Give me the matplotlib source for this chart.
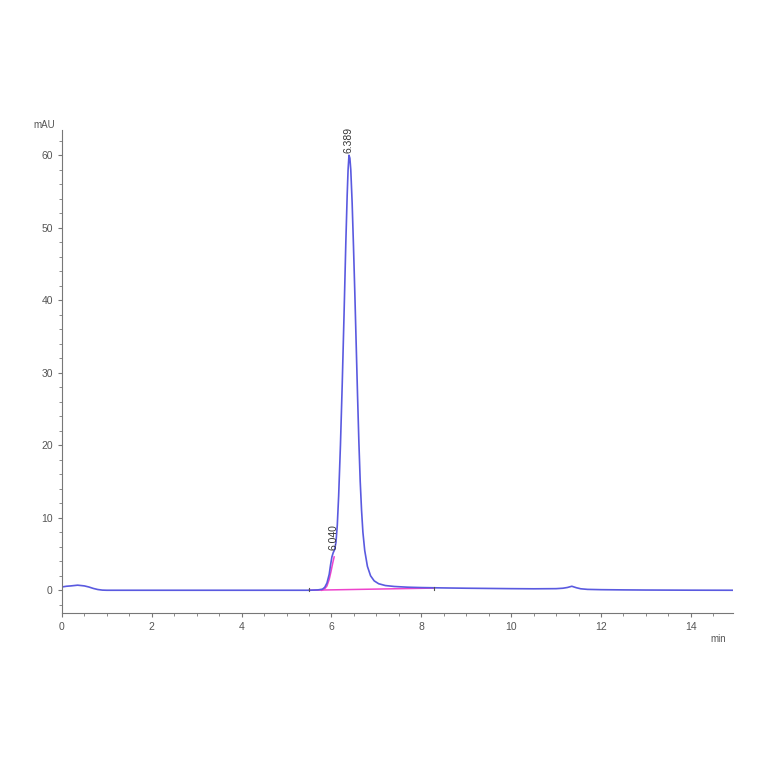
import matplotlib
matplotlib.use('Agg')
import matplotlib.pyplot as plt
from matplotlib.ticker import MultipleLocator

# signal trace (min, mAU)
time = [0.0, 0.1, 0.2, 0.35, 0.5, 0.6, 0.7, 0.8, 0.9, 1.0, 2.0, 3.0, 4.0, 5.0,
        5.5, 5.7, 5.8, 5.85, 5.9, 5.95, 5.98, 6.01, 6.04, 6.07, 6.1, 6.13, 6.16,
        6.2, 6.24, 6.28, 6.32, 6.35, 6.37, 6.39, 6.41, 6.43, 6.46, 6.49, 6.52,
        6.55, 6.58, 6.61, 6.64, 6.67, 6.7, 6.74, 6.8, 6.87, 6.95, 7.05, 7.2,
        7.4, 7.7, 8.0, 8.5, 9.0, 9.5, 10.0, 10.5, 11.0, 11.15, 11.25, 11.35,
        11.45, 11.55, 11.7, 12.0, 12.5, 13.0, 14.0, 14.93]
signal = [0.45, 0.55, 0.6, 0.7, 0.6, 0.45, 0.25, 0.1, 0.02, 0.0, 0.0, 0.0, 0.0, 0.0,
          0.0, 0.05, 0.15, 0.4, 1.0, 2.2, 3.5, 4.6, 5.2, 5.6, 6.6, 9.0, 13.0,
          20.0, 28.5, 38.0, 48.0, 54.5, 58.0, 60.0, 59.6, 58.0, 53.5, 47.5, 41.0,
          34.0, 27.0, 20.5, 15.0, 11.0, 8.0, 5.5, 3.3, 2.0, 1.3, 0.9, 0.65,
          0.52, 0.42, 0.37, 0.32, 0.28, 0.25, 0.22, 0.2, 0.22, 0.28, 0.38, 0.55,
          0.35, 0.2, 0.12, 0.08, 0.05, 0.03, 0.01, 0.0]

# integration of the shoulder peak
shoulder_t = [5.78, 5.85, 5.9, 5.95, 5.99, 6.03, 6.06]
shoulder_y = [0.0, 0.2, 0.6, 1.5, 2.6, 3.8, 4.6]

# baseline drawn under the peak group
base_t = [5.5, 8.29]
base_y = [0.0, 0.3]

peak_times = [6.040, 6.389]
peak_heights = [5.2, 60.0]
peak_labels = ['6.040', '6.389']

blue = '#5a5ae0'
pink = '#ee44cc'
grey = '#555555'

plt.rcParams['font.family'] = ['Liberation Sans', 'DejaVu Sans']

fig = plt.figure(figsize=(7.64, 7.64), dpi=100)
ax = fig.add_axes([0.081, 0.198, 0.878, 0.632])

ax.plot(base_t, base_y, color=pink, lw=1.1)
ax.plot(shoulder_t, shoulder_y, color=pink, lw=1.1)
ax.plot(time, signal, color=blue, lw=1.2)
ax.plot([base_t[0], base_t[0]], [-0.15, 0.25], color=grey, lw=0.8)
ax.plot([base_t[1], base_t[1]], [0.1, 0.5], color=grey, lw=0.8)

for t, h, lab in zip(peak_times, peak_heights, peak_labels):
    ax.text(t, h + 0.3, lab, rotation=90, ha='center', va='bottom',
            fontsize=7.5, color='#333333')

ax.set_xlim(0, 14.93)
ax.set_ylim(-3.1, 63.5)
ax.xaxis.set_major_locator(MultipleLocator(2))
ax.xaxis.set_minor_locator(MultipleLocator(0.5))
ax.yaxis.set_major_locator(MultipleLocator(10))
ax.yaxis.set_minor_locator(MultipleLocator(2))

for s in ['top', 'right']:
    ax.spines[s].set_visible(False)
for s in ['left', 'bottom']:
    ax.spines[s].set_color('#777777')
    ax.spines[s].set_linewidth(0.8)
ax.tick_params(which='both', colors='#777777', labelcolor=grey, labelsize=7.5)
ax.tick_params(which='major', length=3)
ax.tick_params(which='minor', length=2)

ax.text(-0.01, 1.0, 'mAU', transform=ax.transAxes, ha='right', va='bottom',
        fontsize=7, color=grey)
ax.text(0.99, -0.045, 'min', transform=ax.transAxes, ha='right', va='top',
        fontsize=7, color=grey)

fig.savefig('out.png', dpi=100)
